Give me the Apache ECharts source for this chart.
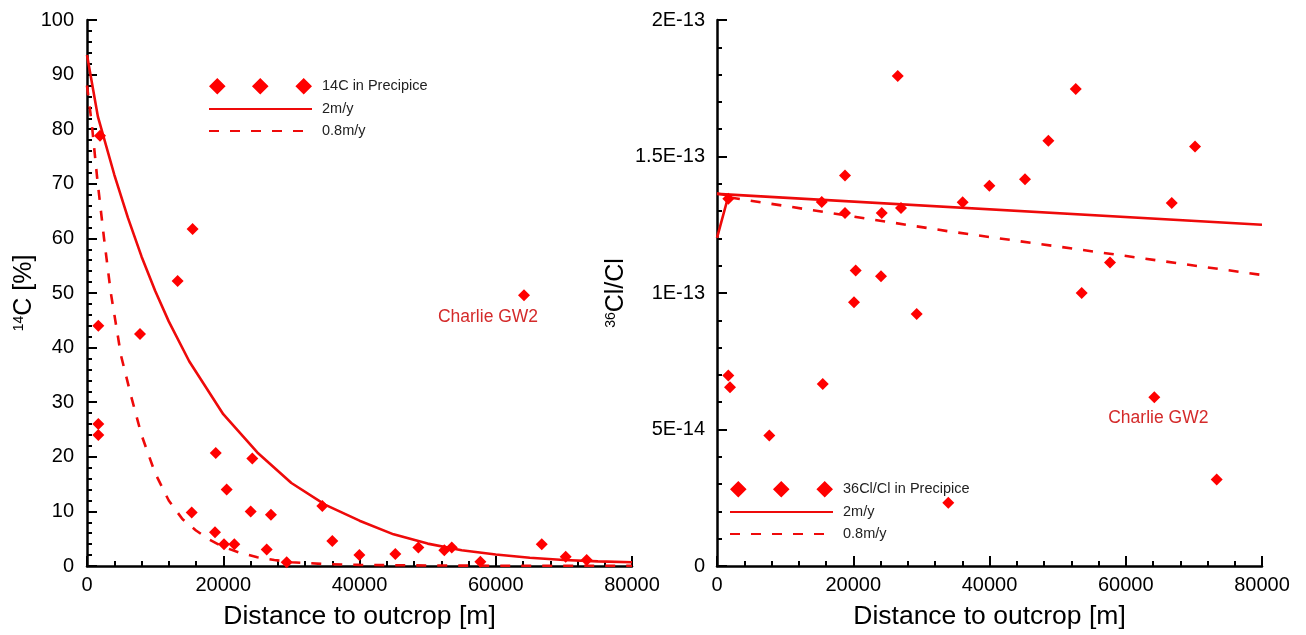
<!DOCTYPE html>
<html>
<head>
<meta charset="utf-8">
<title>14C and 36Cl/Cl vs distance</title>
<script src="https://cdn.jsdelivr.net/npm/echarts@6/dist/echarts.min.js"></script>
<style>
  html, body { margin:0; padding:0; background:#fff; }
  #chart { width:1306px; height:635px; }
</style>
</head>
<body>
<div id="chart"></div>
<script>
// ===== Data
// 14C in Precipice: [distance m, 14C %]
const c14Points = [
  [1908,78.8],[15500,61.7],[13300,52.2],[1660,44.0],[7780,42.5],[1660,26.0],[1660,24.0],
  [18900,20.7],[24270,19.7],[20500,14.0],[15370,9.8],[24030,10.0],[27000,9.4],[34540,11.0],
  [18790,6.2],[20110,4.0],[21620,4.0],[26380,3.0],[29310,0.7],[36010,4.6],[39980,2.0],
  [45260,2.2],[48640,3.4],[52450,2.9],[53540,3.4],[57740,0.8],[66750,4.0],[70270,1.7],[73350,1.1]
];
const c14Charlie = [64150,49.6];
// model curves 14C
const c14Flow2 = [
  [0,93.6],[1600,82.3],[4000,71.7],[6000,63.8],[8000,56.7],[10000,50.4],[12000,44.8],
  [15000,37.5],[20000,27.8],[25000,20.8],[30000,15.2],[35000,11.2],[40000,8.3],[45000,5.8],
  [50000,4.1],[55000,2.9],[60000,2.1],[65000,1.5],[70000,1.1],[75000,0.85],[80000,0.7]
];
const c14Flow08 = [
  [0,88],[700,81],[1500,71],[2500,60],[3500,50],[5000,38.5],[6500,31],[8000,24],[10000,17],
  [12000,12],[14000,8.6],[16000,6.5],[18000,4.8],[20000,3.5],[22500,2.4],[25000,1.6],
  [27500,1.1],[30000,0.7],[35000,0.35],[40000,0.2],[50000,0.1],[60000,0.05],[80000,0.02]
];

// 36Cl/Cl in Precipice: [distance m, ratio]
const clPoints = [
  [26530,1.795e-13],[18790,1.43e-13],[1660,1.345e-13],[15380,1.333e-13],[18790,1.293e-13],
  [24180,1.293e-13],[27010,1.311e-13],[20360,1.082e-13],[24070,1.061e-13],[20110,0.966e-13],
  [29310,0.923e-13],[1660,0.698e-13],[1910,0.655e-13],[15520,0.667e-13],[7680,0.478e-13],
  [33950,0.232e-13],[36060,1.332e-13],[39980,1.393e-13],[45210,1.417e-13],[48640,1.558e-13],
  [52660,1.747e-13],[70170,1.537e-13],[66750,1.33e-13],[57690,1.112e-13],[53530,1.0e-13],
  [73350,0.317e-13]
];
const clCharlie = [64190,0.618e-13];
const clFlow2  = [[0,1.202e-13],[1700,1.358e-13],[0,1.363e-13],[80000,1.25e-13]];
const clFlow08 = [[1900,1.35e-13],[34000,1.226e-13],[80000,1.066e-13]];

const xTicks = { min:0, max:80000, interval:20000 };
const c14Ticks = { min:0, max:100, interval:10 };
const clTicks = { min:0, max:2e-13, interval:5e-14 };

// ===== Styles
const FONT = 'Liberation Sans, Arial, sans-serif';
const RED = '#ff0000';
const LINE_RED = '#ee0a0a';
const DIAMONDS = 'path://M0 8.5L8.5 0L17 8.5L8.5 17ZM44 8.5L52.5 0L61 8.5L52.5 17ZM88.5 8.5L97 0L105.5 8.5L97 17Z';

const supRich = {
  sup:{ fontFamily:FONT, fontSize:14, color:'#000', verticalAlign:'top', padding:[0,0,9,0] }
};

function xAxis(idx){
  return {
    type:'value', gridIndex:idx, min:xTicks.min, max:xTicks.max, interval:xTicks.interval,
    name:'Distance to outcrop [m]', nameLocation:'middle', nameGap:37,
    nameTextStyle:{ fontFamily:FONT, fontSize:26.5, color:'#000' },
    axisLine:{ lineStyle:{ color:'#000', width:2.5 } },
    axisTick:{ inside:true, length:10, lineStyle:{ color:'#000', width:2 } },
    minorTick:{ show:true, splitNumber:5, length:5, lineStyle:{ color:'#000', width:2 } },
    axisLabel:{ fontFamily:FONT, fontSize:20, color:'#000', margin:9, formatter:v=>String(v) },
    splitLine:{ show:false }
  };
}
function yAxis(idx, t, name, gap, margin, fmt){
  return {
    type:'value', gridIndex:idx, min:t.min, max:t.max, interval:t.interval,
    name:name, nameLocation:'middle', nameGap:gap, nameRotate:90,
    nameTextStyle:{ fontFamily:FONT, fontSize:25, color:'#000', rich:supRich },
    axisLine:{ show:true, lineStyle:{ color:'#000', width:2.5 } },
    axisTick:{ show:true, inside:true, length:10, lineStyle:{ color:'#000', width:2 } },
    minorTick:{ show:true, splitNumber:5, length:5, lineStyle:{ color:'#000', width:2 } },
    axisLabel:{ fontFamily:FONT, fontSize:20, color:'#000', margin:margin, formatter:fmt },
    splitLine:{ show:false }
  };
}
function sciFmt(v){
  if (v === 0) return '0';
  return Number(v.toPrecision(3)).toExponential().replace('e', 'E').replace('+','');
}

function lineSeries(name, data, idx, dashed){
  return {
    name:name, type:'line', xAxisIndex:idx, yAxisIndex:idx, data:data,
    symbol:'circle', showSymbol:false, smooth:false, z:2,
    lineStyle:{ color:LINE_RED, width:2.6, type: dashed ? [10,11] : 'solid' },
    itemStyle:{ color:LINE_RED }
  };
}
function scatterSeries(name, pts, charlie, idx, labelOffset, dist){
  const data = pts.map(p=>p.slice());
  data.push({
    value:charlie,
    label:{ show:true, formatter:'Charlie GW2', position:'bottom', distance:dist, offset:labelOffset,
            fontFamily:FONT, fontSize:17.5, color:'#d42a2a' }
  });
  return {
    name:name, type:'scatter', xAxisIndex:idx, yAxisIndex:idx, data:data,
    symbol:'diamond', symbolSize:12, z:3,
    itemStyle:{ color:RED, opacity:1 }
  };
}

const legendBase = {
  orient:'vertical', itemWidth:103, itemHeight:17, itemGap:7,
  textStyle:{ fontFamily:FONT, fontSize:14.5, color:'#222', padding:[0,0,0,5] },
  selectedMode:false
};
const noSym = { opacity:0 };

const chart = echarts.init(document.getElementById('chart'), null, { renderer:'canvas' });
chart.setOption({
  animation:false,
  backgroundColor:'#fff',
  grid:[
    { left:87, top:20, width:545, height:546.5 },
    { left:717, top:20, width:545, height:546.5 }
  ],
  xAxis:[ xAxis(0), xAxis(1) ],
  yAxis:[
    yAxis(0, c14Ticks, '{sup|14}C [%]', 50, 13),
    yAxis(1, clTicks, '{sup|36}Cl/Cl', 88, 12, sciFmt)
  ],
  legend:[
    Object.assign({}, legendBase, { left:203, top:73,
      data:[{ name:'14C in Precipice', icon:DIAMONDS },
            { name:'2m/y', itemStyle:noSym }, { name:'0.8m/y', itemStyle:noSym }] }),
    Object.assign({}, legendBase, { left:724, top:476,
      data:[{ name:'36Cl/Cl in Precipice', icon:DIAMONDS },
            { name:'2m/y', itemStyle:noSym }, { name:'0.8m/y', itemStyle:noSym }] })
  ],
  series:[
    lineSeries('2m/y', c14Flow2, 0, false),
    lineSeries('0.8m/y', c14Flow08, 0, true),
    scatterSeries('14C in Precipice', c14Points, c14Charlie, 0, [-36, 0], 7),
    lineSeries('2m/y', clFlow2, 1, false),
    lineSeries('0.8m/y', clFlow08, 1, true),
    scatterSeries('36Cl/Cl in Precipice', clPoints, clCharlie, 1, [4, 0], 6)
  ]
});
</script>
</body>
</html>
